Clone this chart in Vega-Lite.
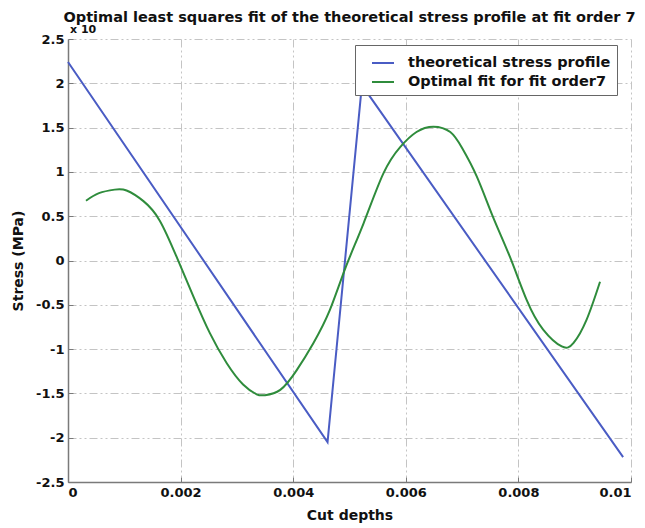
{
  "$schema": "https://vega.github.io/schema/vega-lite/v6.json",
  "width": 563,
  "height": 443,
  "autosize": {"type": "none"},
  "padding": {"left": 68, "top": 39, "right": 14, "bottom": 46},
  "background": "white",
  "config": {
    "font": "DejaVu Sans",
    "view": {"stroke": null},
    "axis": {
      "labelFont": "DejaVu Sans",
      "labelFontSize": 13,
      "labelFontWeight": "bold",
      "labelColor": "#111111",
      "titleFont": "DejaVu Sans",
      "titleFontSize": 14,
      "titleFontWeight": "bold",
      "titleColor": "#111111",
      "domainColor": "#7a7a7a",
      "domainWidth": 1.5,
      "tickColor": "#7a7a7a",
      "tickSize": -5,
      "tickWidth": 1,
      "gridColor": "#c4c4c4",
      "gridDash": [8, 3, 2, 3, 2, 3],
      "gridWidth": 1
    }
  },
  "title": {
    "text": "Optimal least squares fit of the theoretical stress profile at fit order 7",
    "font": "DejaVu Sans",
    "fontSize": 14.5,
    "fontWeight": "bold",
    "color": "#111111",
    "anchor": "middle",
    "offset": -1
  },
  "data": {
    "values": [
      {"depth": 0.0, "stress": 2.24, "series": "theoretical stress profile"},
      {"depth": 0.00461, "stress": -2.05, "series": "theoretical stress profile"},
      {"depth": 0.00522, "stress": 1.98, "series": "theoretical stress profile"},
      {"depth": 0.00986, "stress": -2.22, "series": "theoretical stress profile"},
      {"depth": 0.00032, "stress": 0.675, "series": "Optimal fit for fit order7"},
      {"depth": 0.00055, "stress": 0.76, "series": "Optimal fit for fit order7"},
      {"depth": 0.00083, "stress": 0.80, "series": "Optimal fit for fit order7"},
      {"depth": 0.00104, "stress": 0.79, "series": "Optimal fit for fit order7"},
      {"depth": 0.00134, "stress": 0.67, "series": "Optimal fit for fit order7"},
      {"depth": 0.00163, "stress": 0.45, "series": "Optimal fit for fit order7"},
      {"depth": 0.00193, "stress": 0.04, "series": "Optimal fit for fit order7"},
      {"depth": 0.00223, "stress": -0.41, "series": "Optimal fit for fit order7"},
      {"depth": 0.00252, "stress": -0.82, "series": "Optimal fit for fit order7"},
      {"depth": 0.00282, "stress": -1.16, "series": "Optimal fit for fit order7"},
      {"depth": 0.00311, "stress": -1.40, "series": "Optimal fit for fit order7"},
      {"depth": 0.00335, "stress": -1.51, "series": "Optimal fit for fit order7"},
      {"depth": 0.0035, "stress": -1.52, "series": "Optimal fit for fit order7"},
      {"depth": 0.00377, "stress": -1.46, "series": "Optimal fit for fit order7"},
      {"depth": 0.00406, "stress": -1.24, "series": "Optimal fit for fit order7"},
      {"depth": 0.00436, "stress": -0.93, "series": "Optimal fit for fit order7"},
      {"depth": 0.00465, "stress": -0.56, "series": "Optimal fit for fit order7"},
      {"depth": 0.00493, "stress": -0.08, "series": "Optimal fit for fit order7"},
      {"depth": 0.00525, "stress": 0.42, "series": "Optimal fit for fit order7"},
      {"depth": 0.0056, "stress": 0.98, "series": "Optimal fit for fit order7"},
      {"depth": 0.0059, "stress": 1.28, "series": "Optimal fit for fit order7"},
      {"depth": 0.00619, "stress": 1.45, "series": "Optimal fit for fit order7"},
      {"depth": 0.00649, "stress": 1.51, "series": "Optimal fit for fit order7"},
      {"depth": 0.00679, "stress": 1.45, "series": "Optimal fit for fit order7"},
      {"depth": 0.007, "stress": 1.27, "series": "Optimal fit for fit order7"},
      {"depth": 0.00726, "stress": 0.95, "series": "Optimal fit for fit order7"},
      {"depth": 0.00755, "stress": 0.49, "series": "Optimal fit for fit order7"},
      {"depth": 0.00785, "stress": 0.04, "series": "Optimal fit for fit order7"},
      {"depth": 0.00815, "stress": -0.45, "series": "Optimal fit for fit order7"},
      {"depth": 0.00844, "stress": -0.78, "series": "Optimal fit for fit order7"},
      {"depth": 0.00877, "stress": -0.97, "series": "Optimal fit for fit order7"},
      {"depth": 0.00898, "stress": -0.93, "series": "Optimal fit for fit order7"},
      {"depth": 0.00921, "stress": -0.67, "series": "Optimal fit for fit order7"},
      {"depth": 0.00945, "stress": -0.24, "series": "Optimal fit for fit order7"}
    ]
  },
  "encoding": {
    "x": {
      "field": "depth",
      "type": "quantitative",
      "scale": {"domain": [0, 0.01], "nice": false, "zero": false},
      "axis": {
        "title": "Cut depths",
        "values": [0, 0.002, 0.004, 0.006, 0.008, 0.01],
        "labelExpr": "format(datum.value, '.3~f')",
        "labelPadding": 9,
        "titlePadding": 9
      }
    },
    "y": {
      "field": "stress",
      "type": "quantitative",
      "scale": {"domain": [-2.5, 2.5], "nice": false, "zero": false},
      "axis": {
        "title": "Stress (MPa)",
        "values": [-2.5, -2, -1.5, -1, -0.5, 0, 0.5, 1, 1.5, 2, 2.5],
        "labelExpr": "replace(format(datum.value, '.1~f'), '\u2212', '-')",
        "labelPadding": 9,
        "titlePadding": 10
      }
    }
  },
  "layer": [
    {
      "transform": [{"filter": "datum.series === 'theoretical stress profile'"}],
      "mark": {"type": "line", "strokeWidth": 2},
      "encoding": {
        "color": {
          "field": "series",
          "type": "nominal",
          "scale": {
            "domain": ["theoretical stress profile", "Optimal fit for fit order7"],
            "range": ["#4a5cc4", "#2f8c3c"]
          },
          "legend": {
            "title": null,
            "orient": "none",
            "legendX": 287,
            "legendY": 6,
            "direction": "vertical",
            "symbolType": "stroke",
            "symbolSize": 484,
            "symbolStrokeWidth": 2,
            "symbolOffset": 10,
            "labelFont": "DejaVu Sans",
            "labelFontSize": 14.5,
            "labelFontWeight": "bold",
            "labelColor": "#111111",
            "labelLimit": 400,
            "labelOffset": 13,
            "rowPadding": -3,
            "padding": 6,
            "fillColor": "white",
            "strokeColor": "#666666"
          }
        },
        "order": {"field": "depth"}
      }
    },
    {
      "transform": [{"filter": "datum.series === 'Optimal fit for fit order7'"}],
      "mark": {"type": "line", "strokeWidth": 2, "interpolate": "natural"},
      "encoding": {
        "color": {"field": "series", "type": "nominal"},
        "order": {"field": "depth"}
      }
    },
    {
      "data": {"values": [{"depth": 0, "stress": 2.5, "note": "x 10"}]},
      "mark": {
        "type": "text",
        "font": "DejaVu Sans",
        "fontSize": 11,
        "fontWeight": "bold",
        "color": "#111111",
        "align": "left",
        "baseline": "bottom",
        "dx": 2,
        "dy": -4
      },
      "encoding": {
        "text": {"field": "note"}
      }
    }
  ]
}
